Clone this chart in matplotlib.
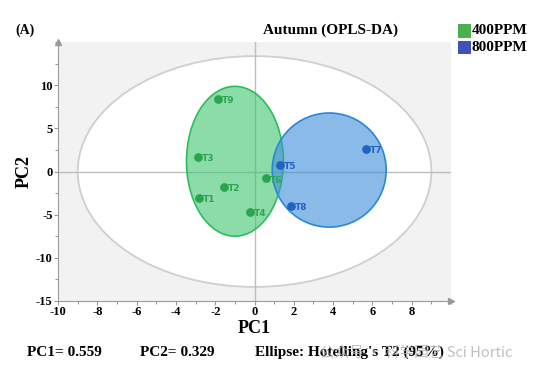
import numpy as np
import matplotlib
matplotlib.use("Agg")
from matplotlib import pyplot as plt
from matplotlib.patches import Ellipse, Rectangle
from matplotlib.ticker import MultipleLocator

# sample scores (PC1, PC2)
labels_400 = ["T1", "T2", "T3", "T4", "T6", "T9"]
pc1_400 = [-2.83, -1.57, -2.88, -0.24, 0.58, -1.86]
pc2_400 = [-3.1, -1.82, 1.74, -4.65, -0.81, 8.45]

labels_800 = ["T5", "T7", "T8"]
pc1_800 = [1.29, 5.68, 1.84]
pc2_800 = [0.78, 2.6, -3.99]

# group ellipses: center x, center y, width, height
ell_400 = [-1.0, 1.19, 4.93, 17.4]
ell_800 = [3.8, 0.17, 5.8, 13.25]
ell_t2 = [0.0, 0.0, 18.0, 26.8]

plt.rcParams['font.family'] = ['Liberation Serif', 'DejaVu Serif']
plt.rcParams['axes.unicode_minus'] = False

fig = plt.figure(figsize=(5.43, 3.78), dpi=100)
ax = fig.add_axes([0.107, 0.2045, 0.7236, 0.6835])
ax.set_facecolor('#f2f2f2')
ax.set_xlim(-10, 10)
ax.set_ylim(-15, 15)

# Hotelling T2 ellipse
ax.add_patch(Ellipse((ell_t2[0], ell_t2[1]), ell_t2[2], ell_t2[3],
                     facecolor='white', edgecolor='#cfcfcf', lw=1.3, zorder=1))
ax.axhline(0, color='#bdbdbd', lw=1, zorder=2)
ax.axvline(0, color='#bdbdbd', lw=1, zorder=2)

ax.add_patch(Ellipse((ell_400[0], ell_400[1]), ell_400[2], ell_400[3],
                     facecolor='#3ec56e', alpha=0.6, edgecolor='none', zorder=3))
ax.add_patch(Ellipse((ell_400[0], ell_400[1]), ell_400[2], ell_400[3],
                     facecolor='none', edgecolor='#2cbd5c', lw=1.2, zorder=3))
ax.add_patch(Ellipse((ell_800[0], ell_800[1]), ell_800[2], ell_800[3],
                     facecolor='#3d8ed9', alpha=0.6, edgecolor='none', zorder=4))
ax.add_patch(Ellipse((ell_800[0], ell_800[1]), ell_800[2], ell_800[3],
                     facecolor='none', edgecolor='#2b86d6', lw=1.2, zorder=4))

ax.scatter(pc1_400, pc2_400, s=28, color='#2aa54d', zorder=5)
ax.scatter(pc1_800, pc2_800, s=28, color='#2461c4', zorder=5)
for x, y, t in zip(pc1_400, pc2_400, labels_400):
    ax.annotate(t, (x, y), xytext=(3, -3), textcoords='offset points',
                fontsize=6.5, color='#2aa54d', family='DejaVu Sans', fontweight='bold', zorder=6)
for x, y, t in zip(pc1_800, pc2_800, labels_800):
    ax.annotate(t, (x, y), xytext=(3, -3), textcoords='offset points',
                fontsize=6.5, color='#2461c4', family='DejaVu Sans', fontweight='bold', zorder=6)

# axes styling
for s in ['top', 'right']:
    ax.spines[s].set_visible(False)
for s in ['left', 'bottom']:
    ax.spines[s].set_color('#9a9a9a')
    ax.spines[s].set_linewidth(0.8)
ax.xaxis.set_minor_locator(MultipleLocator(1))
ax.yaxis.set_minor_locator(MultipleLocator(2.5))
ax.set_xticks(np.arange(-10, 9, 2))
ax.set_yticks(np.arange(-15, 11, 5))
ax.tick_params(which='both', color='#9a9a9a', width=0.8, labelsize=9, pad=1)
ax.tick_params(which='major', length=3)
ax.tick_params(which='minor', length=2)
for lab in ax.get_xticklabels() + ax.get_yticklabels():
    lab.set_fontweight('bold')
ax.plot(1, 0, '>', color='#9a9a9a', ms=4, transform=ax.transAxes, clip_on=False)
ax.plot(0, 1, '^', color='#9a9a9a', ms=4, transform=ax.transAxes, clip_on=False)

ax.set_xlabel('PC1', fontsize=13, fontweight='bold', labelpad=1)
ax.set_ylabel('PC2', fontsize=13, fontweight='bold', labelpad=2)

fig.text(0.028, 0.92, '(A)', fontsize=10, fontweight='bold', va='center')
fig.text(0.608, 0.92, 'Autumn (OPLS-DA)', fontsize=11, fontweight='bold', va='center', ha='center')

# legend
fig.patches.append(Rectangle((0.843, 0.90), 0.025, 0.036, transform=fig.transFigure,
                             facecolor='#4caf50', edgecolor='none'))
fig.patches.append(Rectangle((0.843, 0.856), 0.025, 0.036, transform=fig.transFigure,
                             facecolor='#3f51b5', edgecolor='none'))
fig.text(0.869, 0.918, '400PPM', fontsize=11, fontweight='bold', va='center')
fig.text(0.869, 0.874, '800PPM', fontsize=11, fontweight='bold', va='center')

fig.text(0.05, 0.068, 'PC1= 0.559', fontsize=11, fontweight='bold', va='center')
fig.text(0.258, 0.068, 'PC2= 0.329', fontsize=11, fontweight='bold', va='center')
fig.text(0.47, 0.068, "Ellipse: Hotelling's T2 (95%)", fontsize=11, fontweight='bold', va='center')
fig.text(0.59, 0.066, '公众号 · 科学园艺 Sci Hortic', fontsize=10.5, color='#b0b0b0', alpha=0.8,
         family=['Noto Sans CJK SC', 'DejaVu Sans'], va='center')

fig.savefig('out.png', dpi=100)
